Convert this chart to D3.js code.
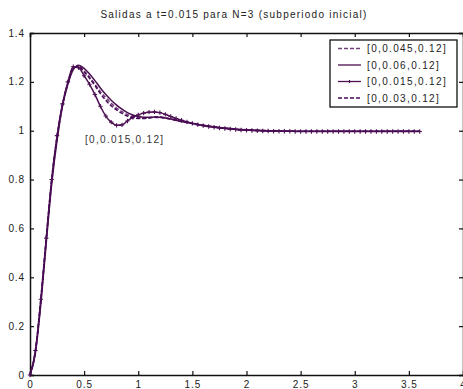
<!DOCTYPE html>
<html>
<head>
<meta charset="utf-8">
<script src="https://cdn.jsdelivr.net/npm/d3@7"></script>
<style>
    body { margin: 0; background: #fff; }
    text { font-family: "Liberation Sans", Arial, sans-serif; fill: #222; }
</style>
</head>
<body>
<div id="chart"></div>
<script>
"use strict";

// sampling times (s)
const times = [0, 0.05, 0.1, 0.15, 0.2, 0.25, 0.3, 0.35, 0.4, 0.45, 0.5, 0.55, 0.6, 0.65, 0.7, 0.75,
    0.8, 0.85, 0.9, 0.95, 1, 1.05, 1.1, 1.15, 1.2, 1.25, 1.3, 1.35, 1.4, 1.45, 1.5, 1.55, 1.6, 1.65,
    1.7, 1.75, 1.8, 1.85, 1.9, 1.95, 2, 2.05, 2.1, 2.15, 2.2, 2.25, 2.3, 2.35, 2.4, 2.45, 2.5, 2.55,
    2.6, 2.65, 2.7, 2.75, 2.8, 2.85, 2.9, 2.95, 3, 3.05, 3.1, 3.15, 3.2, 3.25, 3.3, 3.35, 3.4, 3.45,
    3.5, 3.55, 3.6];

// outputs
const out045 = [0, 0.095, 0.30, 0.55, 0.79, 0.97, 1.105, 1.195, 1.255, 1.265, 1.245, 1.22, 1.19, 1.16,
    1.135, 1.112, 1.093, 1.078, 1.066, 1.058, 1.053, 1.051, 1.052, 1.054, 1.054, 1.051, 1.047, 1.042,
    1.037, 1.033, 1.029, 1.025, 1.022, 1.018, 1.015, 1.013, 1.010, 1.008, 1.006, 1.005, 1.004, 1.003,
    1.002, 1.001, 1.000, 0.999, 0.999, 0.998, 0.998, 0.998, 0.998, 0.998, 0.998, 0.998, 0.998, 0.998,
    0.998, 0.998, 0.998, 0.998, 0.998, 0.998, 0.998, 0.998, 0.998, 0.998, 0.998, 0.998, 0.998, 0.998,
    0.998, 0.998, 0.998];
const out06 = [0, 0.09, 0.29, 0.54, 0.78, 0.96, 1.10, 1.19, 1.25, 1.268, 1.255, 1.232, 1.205, 1.175,
    1.148, 1.125, 1.105, 1.088, 1.074, 1.064, 1.058, 1.055, 1.055, 1.056, 1.055, 1.052, 1.048, 1.043,
    1.038, 1.034, 1.030, 1.026, 1.022, 1.019, 1.016, 1.013, 1.011, 1.009, 1.007, 1.005, 1.004, 1.003,
    1.002, 1.001, 1.000, 0.999, 0.999, 0.998, 0.998, 0.998, 0.998, 0.998, 0.998, 0.998, 0.998, 0.998,
    0.998, 0.998, 0.998, 0.998, 0.998, 0.998, 0.998, 0.998, 0.998, 0.998, 0.998, 0.998, 0.998, 0.998,
    0.998, 0.998, 0.998];
const out015 = [0, 0.10, 0.31, 0.56, 0.80, 0.98, 1.11, 1.20, 1.262, 1.258, 1.225, 1.19, 1.148, 1.10,
    1.06, 1.035, 1.022, 1.024, 1.04, 1.055, 1.065, 1.072, 1.076, 1.077, 1.074, 1.067, 1.058, 1.050,
    1.043, 1.036, 1.030, 1.025, 1.021, 1.017, 1.014, 1.011, 1.009, 1.007, 1.005, 1.003, 1.002, 1.001,
    1.000, 0.999, 0.999, 0.998, 0.998, 0.998, 0.998, 0.997, 0.997, 0.997, 0.997, 0.997, 0.997, 0.997,
    0.997, 0.997, 0.997, 0.997, 0.997, 0.997, 0.997, 0.997, 0.997, 0.997, 0.997, 0.997, 0.997, 0.997,
    0.997, 0.997, 0.997];
const out03 = [0, 0.10, 0.31, 0.56, 0.80, 0.975, 1.105, 1.195, 1.258, 1.262, 1.24, 1.215, 1.185, 1.152,
    1.125, 1.102, 1.085, 1.071, 1.06, 1.053, 1.05, 1.05, 1.053, 1.056, 1.056, 1.053, 1.048, 1.043,
    1.038, 1.034, 1.029, 1.025, 1.022, 1.018, 1.015, 1.012, 1.010, 1.008, 1.006, 1.004, 1.003, 1.002,
    1.001, 1.000, 0.999, 0.999, 0.998, 0.998, 0.998, 0.998, 0.998, 0.998, 0.998, 0.998, 0.998, 0.998,
    0.998, 0.998, 0.998, 0.998, 0.998, 0.998, 0.998, 0.998, 0.998, 0.998, 0.998, 0.998, 0.998, 0.998,
    0.998, 0.998, 0.998];

const seriesNames = ["[0,0.045,0.12]", "[0,0.06,0.12]", "[0,0.015,0.12]", "[0,0.03,0.12]"];
const seriesValues = [out045, out06, out015, out03];
const seriesColors = ["#74407c", "#4a0f4e", "#4d1052", "#460a58"];
const seriesDash = ["4,2", null, null, "4,2"];
const seriesMarker = [false, false, true, false];

const xTicks = [0, 0.5, 1, 1.5, 2, 2.5, 3, 3.5, 4];
const yTicks = [0, 0.2, 0.4, 0.6, 0.8, 1, 1.2, 1.4];

const titleText = "Salidas a t=0.015 para N=3 (subperiodo inicial)";
const noteText = "[0,0.015,0.12]";

const svgWidth = 463,
    svgHeight = 389;

const svg = d3.select("#chart").append("svg")
    .attr("width", svgWidth)
    .attr("height", svgHeight);

// plot area
const plotLeft = 30, plotRight = 463, plotTop = 33, plotBottom = 375;

const x = d3.scaleLinear().domain([0, 4]).range([plotLeft, plotRight]);
const y = d3.scaleLinear().domain([0, 1.4]).range([plotBottom, plotTop]);

const tickFont = { size: "10px", spacing: "0.9px" };

// title
svg.append("text")
    .attr("x", 234)
    .attr("y", 18)
    .attr("text-anchor", "middle")
    .style("font-size", "10px")
    .style("letter-spacing", "1.25px")
    .text(titleText);

// axes, ticks pointing inward
svg.append("g")
    .attr("transform", "translate(0," + plotBottom + ")")
    .call(d3.axisTop(x).tickValues(xTicks).tickSize(4).tickFormat(""));
svg.append("g")
    .attr("transform", "translate(0," + plotTop + ")")
    .call(d3.axisBottom(x).tickValues(xTicks).tickSize(4).tickFormat(""));
svg.append("g")
    .attr("transform", "translate(" + plotLeft + ",0)")
    .call(d3.axisRight(y).tickValues(yTicks).tickSize(4).tickFormat(""));
svg.append("g")
    .attr("transform", "translate(" + plotRight + ",0)")
    .call(d3.axisLeft(y).tickValues(yTicks).tickSize(4).tickFormat(""));
svg.selectAll(".domain").attr("stroke", "#111").attr("stroke-width", 1.5);
svg.selectAll(".tick line").attr("stroke", "#111").attr("stroke-width", 1.2);

// tick labels
svg.append("g").selectAll("text")
    .data(xTicks)
    .enter().append("text")
    .attr("x", d => x(d) + 0.5)
    .attr("y", plotBottom + 13)
    .attr("text-anchor", "middle")
    .style("font-size", tickFont.size)
    .style("letter-spacing", tickFont.spacing)
    .text(d => d);
svg.append("g").selectAll("text")
    .data(yTicks)
    .enter().append("text")
    .attr("x", plotLeft - 5)
    .attr("y", d => y(d) + 3.5)
    .attr("text-anchor", "end")
    .style("font-size", tickFont.size)
    .style("letter-spacing", tickFont.spacing)
    .text(d => d);

// lines
const line = d3.line()
    .x((d, i) => x(times[i]))
    .y(d => y(d))
    .curve(d3.curveMonotoneX);

const plot = svg.append("g");

seriesValues.forEach(function (vals, k) {
    plot.append("path")
        .attr("d", line(vals))
        .attr("fill", "none")
        .attr("stroke", seriesColors[k])
        .attr("stroke-width", 1.5)
        .attr("stroke-dasharray", seriesDash[k]);

    if (seriesMarker[k]) {
        plot.append("g").selectAll("path")
            .data(vals)
            .enter().append("path")
            .attr("d", (d, i) => {
                const px = x(times[i]), py = y(d);
                return "M" + (px - 2.2) + "," + py + "H" + (px + 2.2) +
                    "M" + px + "," + (py - 2.2) + "V" + (py + 2.2);
            })
            .attr("stroke", seriesColors[k])
            .attr("stroke-width", 1.1);
    }
});

// note near the curves
svg.append("text")
    .attr("x", 85)
    .attr("y", 143)
    .style("font-size", "10px")
    .style("letter-spacing", "1.3px")
    .style("fill", "#333")
    .text(noteText);

// legend
const legX = 330, legY = 40, legW = 127, legH = 67, rowH = 16.5;

const legend = svg.append("g");
legend.append("rect")
    .attr("x", legX)
    .attr("y", legY)
    .attr("width", legW)
    .attr("height", legH)
    .attr("fill", "#fff")
    .attr("stroke", "#111")
    .attr("stroke-width", 1.3);

seriesNames.forEach(function (name, k) {
    const ly = legY + 8.5 + k * rowH;
    legend.append("line")
        .attr("x1", legX + 8)
        .attr("x2", legX + 31)
        .attr("y1", ly)
        .attr("y2", ly)
        .attr("stroke", seriesColors[k])
        .attr("stroke-width", 1.3)
        .attr("stroke-dasharray", seriesDash[k]);
    if (seriesMarker[k]) {
        legend.append("path")
            .attr("d", "M" + (legX + 18) + "," + ly + "H" + (legX + 21) +
                "M" + (legX + 19.5) + "," + (ly - 1.5) + "V" + (ly + 1.5))
            .attr("stroke", seriesColors[k])
            .attr("stroke-width", 1.2);
    }
    legend.append("text")
        .attr("x", legX + 37)
        .attr("y", ly + 3.5)
        .style("font-size", "10px")
        .style("letter-spacing", "1.35px")
        .text(name);
});
</script>
</body>
</html>
